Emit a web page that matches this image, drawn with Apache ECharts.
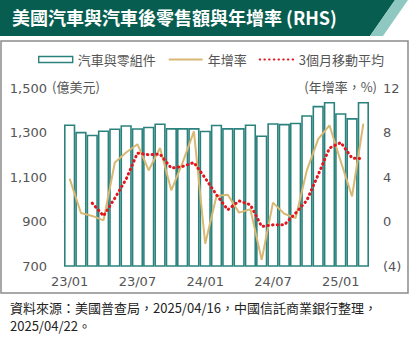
<!DOCTYPE html>
<html>
<head>
<meta charset="utf-8">
<script src="https://cdn.jsdelivr.net/npm/echarts@6/dist/echarts.min.js"></script>
<style>
html,body{margin:0;padding:0;background:#fff;}
#c{width:410px;height:342px;}
</style>
</head>
<body>
<div id="c"></div>
<script>
var categories = ['23/01','23/02','23/03','23/04','23/05','23/06','23/07','23/08','23/09','23/10','23/11','23/12',
  '24/01','24/02','24/03','24/04','24/05','24/06','24/07','24/08','24/09','24/10','24/11','24/12',
  '25/01','25/02','25/03'];
var sales = [1336,1303,1290,1309,1318,1333,1319,1326,1341,1320,1320,1320,1308,1335,1320,1320,1336,1287,1342,1339,1344,1378,1420,1437,1387,1365,1437];
var yoy = [3.85,0.76,0.5,0.1,5.3,6.2,6.95,4.6,6.6,2.8,5.3,8.1,-2.0,2.3,2.4,0.8,1.1,-3.45,1.7,0.7,0.3,4.6,7.4,8.65,5.4,2.25,8.8];
var ma3 = [null,null,1.65,0.5,2.1,3.8,6.15,6.0,6.05,4.8,4.95,5.3,3.9,2.4,1.05,1.85,1.5,-0.45,-0.3,-0.3,0.75,1.9,4.2,6.6,7.1,5.7,5.65];
var seriesNames = ['汽車與零組件','年增率','3個月移動平均'];
var titleText = '美國汽車與汽車後零售額與年增率 (RHS)';
var leftUnit = '(億美元)';
var rightUnit = '(年增率，%)';
var footer1 = '資料來源：美國普查局，2025/04/16，中國信託商業銀行整理，';
var footer2 = '2025/04/22。';

var chart = echarts.init(document.getElementById('c'), null, {renderer:'svg'});
var cjk = '"Noto Sans CJK TC", "Noto Sans", sans-serif';
var num = '"DejaVu Sans", sans-serif';
var teal = '#2b827c';
var hideSym = {color:'rgba(0,0,0,0)',borderWidth:0,opacity:0};
chart.setOption({
  animation:false,
  backgroundColor:'#fff',
  grid:{left:64,right:41,top:88,bottom:76,containLabel:false,outerBoundsMode:'none'},
  legend:{
    left:38, top:53, padding:0, itemWidth:34, itemHeight:6, itemGap:12,
    textStyle:{fontFamily:cjk,fontSize:13,color:'#555'},
    data:[
      {name:seriesNames[0],icon:'rect',itemStyle:{color:'#fff',borderColor:teal,borderWidth:1.4}},
      {name:seriesNames[1],itemStyle:hideSym},
      {name:seriesNames[2],itemStyle:hideSym}
    ]
  },
  xAxis:{
    type:'category', data:categories, boundaryGap:true,
    axisLine:{lineStyle:{color:'#c8c8c8',width:1}},
    axisTick:{interval:5,length:4,lineStyle:{color:'#c8c8c8'}},
    axisLabel:{interval:5,margin:9,fontFamily:num,fontSize:13,color:'#555'}
  },
  yAxis:[{
    type:'value', min:700, max:1500, interval:200,
    axisLine:{show:false}, axisTick:{show:false}, splitLine:{show:false},
    axisLabel:{margin:17,fontFamily:num,fontSize:13,color:'#555',
      formatter:function(v){return v.toLocaleString('en-US');}}
  },{
    type:'value', min:-4, max:12, interval:4,
    axisLine:{show:false}, axisTick:{show:false}, splitLine:{show:false},
    axisLabel:{margin:14,fontFamily:num,fontSize:13,color:'#555',
      formatter:function(v){return v<0?'('+(-v)+')':String(v);}}
  }],
  series:[{
    name:seriesNames[0], type:'bar', data:sales, barCategoryGap:'0%',
    itemStyle:{color:'#ffffff',borderColor:teal,borderWidth:1.6},
    z:1
  },{
    name:seriesNames[1], type:'line', yAxisIndex:1, data:yoy, symbol:'none',
    lineStyle:{color:'#d8b872',width:2}, itemStyle:{color:'#d8b872'}, z:3
  },{
    name:seriesNames[2], type:'line', yAxisIndex:1, data:ma3, symbol:'none',
    lineStyle:{color:'#e3151e',width:3,type:[0.5,4.2],cap:'round'}, itemStyle:{color:'#e3151e'}, z:4
  }],
  graphic:[
    {type:'polygon',shape:{points:[[0,0],[395,0],[370,36],[0,36]]},style:{fill:'#075e50'},z:-1},
    {type:'polygon',shape:{points:[[395,0],[408,0],[383,36],[370,36]]},style:{fill:'#8fc8c1'},z:-1},
    {type:'text',left:12,top:8,style:{text:titleText,fill:'#fff',font:'bold 18px '+cjk},z:10},
    {type:'rect',shape:{x:1,y:41,width:407,height:252},style:{fill:'none',stroke:'#8c8c8c',lineWidth:1.5},z:-1},
    {type:'text',left:52,top:80,style:{text:leftUnit,fill:'#555',font:'13px '+cjk},z:10},
    {type:'text',right:33,top:80,style:{text:rightUnit,fill:'#555',font:'13px '+cjk},z:10},
    {type:'text',left:10,top:301,style:{text:footer1,fill:'#222',font:'13px '+cjk},z:10},
    {type:'text',left:10,top:319,style:{text:footer2,fill:'#222',font:'13px '+cjk},z:10}
  ]
});
</script>
</body>
</html>
